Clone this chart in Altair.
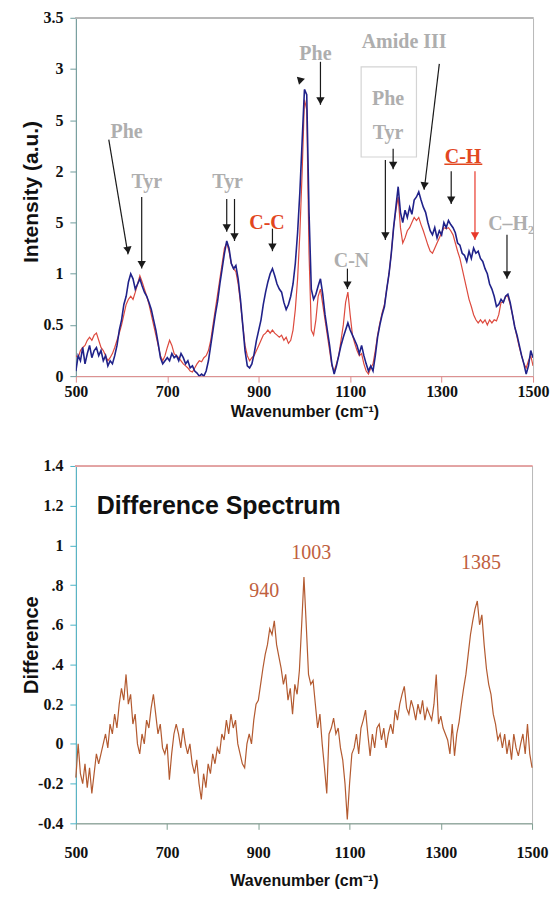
import altair as alt
import pandas as pd

# ---------------- data ----------------
wavenumber = list(range(500, 1505, 5))

intensity_blue = [
    0.05, 0.2, 0.15, 0.28, 0.12, 0.22, 0.3, 0.18, 0.25, 0.28,
    0.2, 0.25, 0.15, 0.2, 0.1, 0.15, 0.12, 0.2, 0.3, 0.45,
    0.55, 0.7, 0.78, 0.92, 1.0, 0.95, 0.85, 0.9, 0.95, 0.88,
    0.82, 0.78, 0.72, 0.65, 0.55, 0.45, 0.32, 0.18, 0.12, 0.15,
    0.18, 0.15, 0.22, 0.18, 0.2, 0.15, 0.22, 0.18, 0.12, 0.15,
    0.08, 0.1, 0.05, 0.03, 0.0, 0.02, 0.0, 0.05, 0.15, 0.3,
    0.45, 0.6, 0.73, 0.9, 1.05, 1.2, 1.32, 1.25, 1.1, 1.05,
    1.08, 0.95, 0.75, 0.5, 0.25, 0.1, 0.08, 0.12, 0.22, 0.35,
    0.45, 0.55, 0.7, 0.82, 0.92, 1.0, 1.05, 0.98, 0.9, 0.85,
    0.82, 0.72, 0.65, 0.7, 0.78, 0.9, 1.1, 1.4, 1.8, 2.3,
    2.8, 2.75, 1.6, 0.85, 0.75, 0.8, 0.88, 0.95, 0.8, 0.6,
    0.45, 0.3, 0.12, 0.02, 0.1, 0.2, 0.3, 0.38, 0.45, 0.52,
    0.45, 0.4, 0.35, 0.3, 0.22, 0.3, 0.2, 0.12, 0.05, 0.1,
    0.05, 0.2, 0.38, 0.5, 0.6, 0.68, 0.85, 1.0, 1.2, 1.45,
    1.65, 1.85, 1.6, 1.5, 1.62, 1.55, 1.65, 1.58, 1.72, 1.75,
    1.8, 1.72, 1.65, 1.6, 1.5, 1.42, 1.38, 1.45, 1.35, 1.42,
    1.38, 1.5, 1.45, 1.52, 1.48, 1.45, 1.4, 1.3, 1.28, 1.2,
    1.18, 1.12, 1.22, 1.15, 1.25, 1.2, 1.22, 1.15, 1.12, 1.05,
    1.0, 0.9, 0.85, 0.78, 0.68, 0.7, 0.75, 0.72, 0.78, 0.8,
    0.72, 0.6, 0.48, 0.4, 0.3, 0.2, 0.12, 0.02, 0.1, 0.25,
    0.18,
]

intensity_red = [
    0.2, 0.18, 0.25, 0.28, 0.3, 0.35, 0.38, 0.35, 0.4, 0.42,
    0.35, 0.28, 0.25, 0.2, 0.15, 0.18, 0.22, 0.28, 0.35, 0.42,
    0.5, 0.6, 0.7, 0.75, 0.78, 0.75, 0.82, 0.9, 0.98, 0.92,
    0.85, 0.78, 0.7, 0.6, 0.5, 0.4, 0.3, 0.2, 0.15, 0.2,
    0.28, 0.35, 0.3, 0.22, 0.2, 0.18, 0.15, 0.12, 0.1, 0.08,
    0.05, 0.04, 0.08, 0.12, 0.15, 0.14, 0.18, 0.2, 0.25, 0.35,
    0.5, 0.65, 0.8, 0.95, 1.1, 1.25, 1.3, 1.22, 1.1, 1.05,
    1.02, 0.9, 0.72, 0.5, 0.3, 0.2, 0.15, 0.18, 0.2, 0.25,
    0.3, 0.35, 0.4, 0.42, 0.45, 0.42, 0.45, 0.42, 0.4, 0.38,
    0.4, 0.35, 0.38, 0.32, 0.35, 0.45, 0.65, 0.95, 1.4, 2.0,
    2.7, 2.6, 1.2, 0.45, 0.4, 0.55, 0.78, 0.85, 0.7, 0.55,
    0.4, 0.25, 0.1, 0.05, 0.12, 0.2, 0.35, 0.5, 0.72, 0.82,
    0.6, 0.4, 0.32, 0.25, 0.2, 0.22, 0.12, 0.05, 0.02, 0.08,
    0.12, 0.25, 0.4, 0.52, 0.62, 0.7, 0.85, 1.0, 1.2, 1.45,
    1.62, 1.75, 1.45, 1.3, 1.35, 1.42, 1.45, 1.5, 1.55, 1.52,
    1.55, 1.48, 1.42, 1.35, 1.28, 1.22, 1.2, 1.25, 1.3, 1.35,
    1.4, 1.45, 1.44, 1.45, 1.42, 1.38, 1.3, 1.22, 1.15, 1.05,
    0.95, 0.85, 0.75, 0.68, 0.6, 0.55, 0.52, 0.55, 0.52, 0.55,
    0.5, 0.55, 0.52, 0.55, 0.54, 0.6, 0.72, 0.72, 0.78, 0.78,
    0.7, 0.6, 0.48, 0.38, 0.28, 0.2, 0.12, 0.08, 0.15, 0.2,
    0.1,
]

difference = [
    -0.17, 0.0, -0.15, -0.2, -0.1, -0.22, -0.12, -0.25, -0.15, -0.05,
    -0.1, -0.05, 0.0, 0.05, -0.02, 0.1, 0.05, 0.15, 0.08, 0.2,
    0.28, 0.22, 0.35, 0.2, 0.25, 0.1, 0.15, 0.0, -0.05, 0.05,
    0.0, 0.12, 0.08, 0.18, 0.25, 0.15, 0.05, 0.1, -0.02, -0.05,
    0.0, -0.18, -0.05, 0.05, 0.1, 0.05, -0.02, 0.08, 0.0, -0.05,
    0.0, -0.1, -0.15, -0.08, -0.2, -0.28, -0.15, -0.22, -0.1, -0.15,
    -0.05, -0.1, -0.02, -0.05, 0.05, 0.02, 0.12, 0.05, 0.15, 0.08,
    0.12, 0.0, -0.05, -0.1, -0.12, 0.0, 0.05, 0.0, 0.12, 0.2,
    0.22, 0.3, 0.38, 0.45, 0.5, 0.58, 0.55, 0.62, 0.5, 0.44,
    0.38, 0.3, 0.35, 0.22, 0.28, 0.15, 0.3, 0.25, 0.37, 0.6,
    0.84, 0.6, 0.35, 0.3, 0.32, 0.2, 0.08, 0.15, 0.0, -0.12,
    -0.25, 0.05, 0.08, 0.13, 0.05, 0.08, -0.02, -0.08, -0.2, -0.38,
    -0.2, -0.05, -0.02, 0.05, -0.05, 0.08, 0.12, 0.17, 0.05, -0.06,
    0.05, -0.02, 0.08, 0.1, 0.02, 0.08, -0.02, 0.05, 0.1, 0.05,
    0.17, 0.12, 0.2, 0.25, 0.29, 0.18, 0.15, 0.22, 0.18, 0.12,
    0.2, 0.15, 0.22, 0.12, 0.18, 0.15, 0.12, 0.2, 0.35, 0.1,
    0.14, 0.08, 0.05, 0.02, -0.05, 0.1, -0.06, 0.05, 0.11, 0.2,
    0.28, 0.35, 0.45, 0.55, 0.62, 0.68, 0.72, 0.6, 0.65, 0.5,
    0.38, 0.3, 0.25, 0.15, 0.1, 0.02, 0.05, -0.02, 0.05, -0.05,
    0.02, -0.08, 0.05, -0.02, -0.06, 0.0, 0.05, -0.05, 0.1, -0.05,
    -0.12,
]

top_ticks = [0, 0.5, 1, 1.5, 2, 2.5, 3, 3.5]
top_tick_labels = ["0", "0.5", "1", "5", "2", "5", "3", "3.5"]
bot_ticks = [-0.4, -0.2, 0, 0.2, 0.4, 0.6, 0.8, 1, 1.2, 1.4]
bot_tick_labels = ["-0.4", "-0.2", "0", "0.2", ".4", ".6", ".8", "1", "1.2", "1.4"]
x_ticks = [500, 700, 900, 1100, 1300, 1500]

# annotation labels (top panel)
lab_text = ["Phe", "Tyr", "Tyr", "C-C", "Phe", "Amide III", "Phe", "Tyr", "C-H", "C-N", "C\u2013H\u2082"]
lab_x = [611, 655, 832, 918, 1024, 1218, 1183, 1183, 1347, 1103, 1452]
lab_y = [2.38, 1.9, 1.9, 1.5, 3.15, 3.26, 2.71, 2.37, 2.14, 1.12, 1.49]
lab_kind = ["grey", "grey", "grey", "red", "grey", "grey", "grey", "grey", "red", "grey", "grey"]

# arrows (start -> tip)
arr_x1 = [572, 644, 830, 847, 930, 1035, 1177, 1194, 1295, 1094, 1321, 1373, 1443]
arr_y1 = [2.31, 1.75, 1.73, 1.73, 1.44, 3.07, 2.11, 2.22, 3.05, 1.05, 2.0, 2.0, 1.38]
arr_x2 = [614, 644, 830, 847, 930, 1035, 1177, 1194, 1262, 1094, 1321, 1373, 1443]
arr_y2 = [1.19, 1.05, 1.41, 1.32, 1.22, 2.65, 1.33, 2.02, 1.82, 0.85, 1.68, 1.33, 0.95]
arr_angle = [350.5, 0, 0, 0, 0, 0, 0, 0, 6.8, 0, 0, 0, 0]
arr_kind = ["black"] * 11 + ["red"] + ["black"]

# lone arrowhead next to the 1003 peak
head_x = [989]
head_y = [2.9]
head_angle = [135]

# boxed label frame and C-H underline
box_x = [1124]
box_x2 = [1245]
box_y = [2.14]
box_y2 = [3.02]
ul_x = [1306]
ul_x2 = [1389]
ul_y = [2.07]

# difference panel labels
dl_text = ["940", "1003", "1385"]
dl_x = [913, 1016, 1388]
dl_y = [0.77, 0.96, 0.91]

# ---------------- styling ----------------
BLUE = "#20228a"
RED = "#dd4a3e"
BROWN = "#b35a30"
GREY_TXT = "#aeaeae"
LBL_RED = "#e2471f"
ARROW_BLACK = "#1a1a1a"
ARROW_RED = "#e8382a"
TICK_FONT = "Liberation Sans Narrow"
TITLE_FONT = "Liberation Sans"
SERIF = "Liberation Serif"

W1, H1 = 458, 359
W2, H2 = 457, 358

spec_df = pd.DataFrame({
    "w": wavenumber * 2,
    "v": intensity_blue + intensity_red,
    "s": ["blue"] * len(wavenumber) + ["red"] * len(wavenumber),
})
diff_df = pd.DataFrame({"w": wavenumber, "d": difference})
lab_df = pd.DataFrame({"t": lab_text, "x": lab_x, "y": lab_y, "k": lab_kind})
arr_df = pd.DataFrame({"x1": arr_x1, "y1": arr_y1, "x2": arr_x2, "y2": arr_y2,
                       "a": arr_angle, "k": arr_kind})
head_df = pd.DataFrame({"x": head_x, "y": head_y, "a": head_angle})
box_df = pd.DataFrame({"x": box_x, "x2": box_x2, "y": box_y, "y2": box_y2})
ul_df = pd.DataFrame({"x": ul_x, "x2": ul_x2, "y": ul_y})
dl_df = pd.DataFrame({"t": dl_text, "x": dl_x, "y": dl_y})


def label_expr(vals, labels):
    v = "[" + ",".join(repr(float(x)) for x in vals) + "]"
    l = "[" + ",".join("'" + s + "'" for s in labels) + "]"
    return f"{l}[indexof({v}, datum.value)]"


xscale = alt.Scale(domain=[500, 1500], nice=False, zero=False)
yscale_top = alt.Scale(domain=[0, 3.5], nice=False)
yscale_bot = alt.Scale(domain=[-0.4, 1.4], nice=False)


def x_axis(label_pad, title_y, domain_color):
    return alt.Axis(values=x_ticks, tickCount=len(x_ticks), format="d",
                    title="Wavenumber (cm\u207b\u00b9)", grid=False,
                    labelFont=TICK_FONT, labelFontSize=16, labelFontWeight="bold",
                    labelColor="#111", labelPadding=label_pad, tickSize=6,
                    tickColor=domain_color, domainColor=domain_color,
                    titleFont=TITLE_FONT, titleFontSize=16, titleFontWeight="bold",
                    titleColor="#111", titleY=title_y, titleBaseline="middle",
                    labelFlush=False, labelOverlap=False)


def y_axis(title, vals, labels, domain_color, title_y, title_size):
    return alt.Axis(values=vals, tickCount=len(vals), labelExpr=label_expr(vals, labels),
                    title=title, grid=False, labelFont=TICK_FONT, labelFontSize=16,
                    labelFontWeight="bold", labelColor="#111", labelPadding=7,
                    tickSize=6, tickColor=domain_color, domainColor=domain_color,
                    titleFont=TITLE_FONT, titleFontSize=title_size, titleFontWeight="bold",
                    titleColor="#111", titleX=-44, titleY=title_y,
                    titleBaseline="middle", titleAngle=-90, labelFlush=False,
                    labelOverlap=False)


# ---------------- top panel ----------------
base_spec = alt.Chart(spec_df)
red_line = base_spec.transform_filter(alt.datum.s == "red").mark_line(
    strokeWidth=1.2, color=RED, clip=True).encode(
    x=alt.X("w:Q", scale=xscale, axis=x_axis(1, 35, "#e08c8c")),
    y=alt.Y("v:Q", scale=yscale_top,
            axis=y_axis("Intensity (a.u.)", top_ticks, top_tick_labels, "#6f9c9c", 174, 21)),
)
blue_line = base_spec.transform_filter(alt.datum.s == "blue").mark_line(
    strokeWidth=1.6, color=BLUE, clip=True).encode(x="w:Q", y="v:Q")

top_border = alt.Chart(spec_df).mark_rule(color="#b8b8b8", strokeWidth=1).encode(
    x=alt.value(0), x2=alt.value(W1), y=alt.value(0))

box = alt.Chart(box_df).mark_rect(fill=None, stroke="#d4d4d4", strokeWidth=1.2).encode(
    x="x:Q", x2="x2:Q", y="y:Q", y2="y2:Q")

arr_base = alt.Chart(arr_df)
shafts_k = arr_base.transform_filter(alt.datum.k == "black").mark_rule(
    strokeWidth=1.2, color=ARROW_BLACK).encode(x="x1:Q", y="y1:Q", x2="x2:Q", y2="y2:Q")
shafts_r = arr_base.transform_filter(alt.datum.k == "red").mark_rule(
    strokeWidth=1.2, color=ARROW_RED).encode(x="x1:Q", y="y1:Q", x2="x2:Q", y2="y2:Q")
heads_k = arr_base.transform_filter(alt.datum.k == "black").mark_point(
    shape="triangle-down", filled=True, size=70, opacity=1, yOffset=-4, color=ARROW_BLACK).encode(
    x="x2:Q", y="y2:Q", angle=alt.Angle("a:Q", scale=None))
heads_r = arr_base.transform_filter(alt.datum.k == "red").mark_point(
    shape="triangle-down", filled=True, size=70, opacity=1, yOffset=-4, color=ARROW_RED).encode(
    x="x2:Q", y="y2:Q", angle=alt.Angle("a:Q", scale=None))

lone_head = alt.Chart(head_df).mark_point(shape="triangle-down", filled=True, size=70,
                                          opacity=1, color=ARROW_BLACK).encode(
    x="x:Q", y="y:Q", angle=alt.Angle("a:Q", scale=None))

lab_base = alt.Chart(lab_df)
labels_g = lab_base.transform_filter(alt.datum.k == "grey").mark_text(
    font=SERIF, fontSize=20, fontWeight="bold", baseline="middle", color=GREY_TXT).encode(
    x="x:Q", y="y:Q", text="t:N")
labels_r = lab_base.transform_filter(alt.datum.k == "red").mark_text(
    font=SERIF, fontSize=20, fontWeight="bold", baseline="middle", color=LBL_RED).encode(
    x="x:Q", y="y:Q", text="t:N")

underline = alt.Chart(ul_df).mark_rule(color=LBL_RED, strokeWidth=1.5).encode(
    x="x:Q", x2="x2:Q", y="y:Q")

top = alt.layer(red_line, blue_line, top_border, box, shafts_k, shafts_r, heads_k, heads_r,
                lone_head, labels_g, labels_r, underline).properties(width=W1, height=H1)

# ---------------- bottom panel ----------------
diff_line = alt.Chart(diff_df).mark_line(strokeWidth=1.2, color=BROWN).encode(
    x=alt.X("w:Q", scale=xscale, axis=x_axis(15, 57, "#7f9f92")),
    y=alt.Y("d:Q", scale=yscale_bot,
            axis=y_axis("Difference", bot_ticks, bot_tick_labels, "#49b3c6", 179, 20)),
)

bot_border = alt.Chart(diff_df).mark_rule(color="#e3a4a4", strokeWidth=1).encode(
    x=alt.value(0), x2=alt.value(W2), y=alt.value(0))

title_df = pd.DataFrame({"t": ["Difference Spectrum"], "x": [546], "y": [1.2]})
diff_title = alt.Chart(title_df).mark_text(font=TITLE_FONT, fontSize=25, fontWeight="bold",
                                             align="left", baseline="middle", color="#111").encode(
    x="x:Q", y="y:Q", text="t:N")

diff_labels = alt.Chart(dl_df).mark_text(font=SERIF, fontSize=20, baseline="middle", color="#c0603e").encode(
    x="x:Q", y="y:Q", text="t:N")

bottom = alt.layer(diff_line, bot_border, diff_title, diff_labels).properties(width=W2, height=H2)

chart = alt.vconcat(top, bottom, spacing=37).properties(
    padding={"left": 20, "top": 8, "right": 5, "bottom": 5}
).configure_view(stroke="#b8b8b8", strokeWidth=1)

chart.save("out.html", embed_options={"renderer": "svg", "actions": False})
